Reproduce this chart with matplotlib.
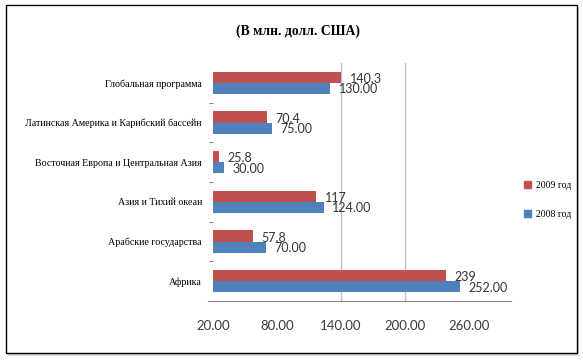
import matplotlib
matplotlib.use("Agg")
import matplotlib.pyplot as plt
import matplotlib.patches as mpatches

categories = ["Африка", "Арабские государства", "Азия и Тихий океан",
              "Восточная Европа и Центральная Азия",
              "Латинская Америка и Карибский бассейн", "Глобальная программа"]
vals_2008 = [252.0, 70.0, 124.0, 30.0, 75.0, 130.0]
vals_2009 = [239, 57.8, 117, 25.8, 70.4, 140.3]
labels_2008 = ["252.00", "70.00", "124.00", "30.00", "75.00", "130.00"]
labels_2009 = ["239", "57.8", "117", "25.8", "70.4", "140.3"]
xticks = [20, 80, 140, 200, 260]

RED = "#C0504D"
BLUE = "#4F81BD"
SERIF = ["Liberation Serif", "DejaVu Serif"]
NUM = ["Lato", "DejaVu Sans"]

fig = plt.figure(figsize=(5.83, 3.63), dpi=100)
fig.patch.set_facecolor("white")

# outer frame with shadow
fig.patches.append(mpatches.Rectangle((8 / 583, 1 - 356 / 363), 571 / 583, 349 / 363,
                                      transform=fig.transFigure, facecolor="#D8D8D8",
                                      edgecolor="none", zorder=0))
fig.patches.append(mpatches.Rectangle((6 / 583, 1 - 353 / 363), 571 / 583, 348 / 363,
                                      transform=fig.transFigure, facecolor="white",
                                      edgecolor="black", linewidth=1.0, zorder=1))

ax = fig.add_axes([213 / 583, 1 - 301 / 363, 298 / 583, 238 / 363])
ax.set_facecolor("none")
ax.set_zorder(2)

y = list(range(len(categories)))
h = 0.28
ax.barh([v + h / 2 for v in y], vals_2009, height=h, color=RED, label="2009 год", zorder=3)
ax.barh([v - h / 2 for v in y], vals_2008, height=h, color=BLUE, label="2008 год", zorder=3)

for i in y:
    ax.annotate(labels_2009[i], (vals_2009[i], i + h / 2), xytext=(6, -1.2),
                textcoords="offset points", ha="left", va="center",
                fontsize=9, family=NUM, color="#333333", zorder=4)
    ax.annotate(labels_2008[i], (vals_2008[i], i - h / 2), xytext=(6, -0.8),
                textcoords="offset points", ha="left", va="center",
                fontsize=9, family=NUM, color="#333333", zorder=4)

for gx in [140, 200]:
    ax.axvline(gx, color="#C8B8E0", linewidth=1.0, zorder=1)

ax.set_xlim(20, 299.5)
ax.set_ylim(-0.5, 5.5)
ax.set_xticks(xticks)
ax.set_xticklabels([f"{t:.2f}" for t in xticks], fontsize=9.5, family=NUM, color="#3A3A3A")
ax.tick_params(axis="x", length=0, pad=14)
ax.set_yticks(y)
ax.set_yticklabels(categories, family=SERIF, fontsize=7.2)
ax.tick_params(axis="y", length=0, pad=8)
ax.set_yticks([v + 0.5 for v in y[:-1]], minor=True)
ax.tick_params(axis="y", which="minor", length=3, color="#888888", width=0.8)

for s in ["top", "right", "left"]:
    ax.spines[s].set_visible(False)
ax.spines["bottom"].set_color("#868686")
ax.spines["bottom"].set_bounds(15, 299.5)
ax.spines["bottom"].set_clip_on(False)

leg = fig.legend(handles=[mpatches.Patch(color=RED, label="2009 год"),
                          mpatches.Patch(color=BLUE, label="2008 год")],
                 loc="center left", bbox_to_anchor=(515 / 583, 1 - 200 / 363),
                 frameon=False, handlelength=0.7, handleheight=0.7,
                 labelspacing=2.0, handletextpad=0.6,
                 prop={"family": SERIF, "size": 7})

fig.text(298 / 583, 1 - 31 / 363, "(В млн. долл. США)", ha="center", va="center",
         fontsize=9.8, fontweight="bold", family=SERIF)

fig.savefig("out.png", dpi=100)
